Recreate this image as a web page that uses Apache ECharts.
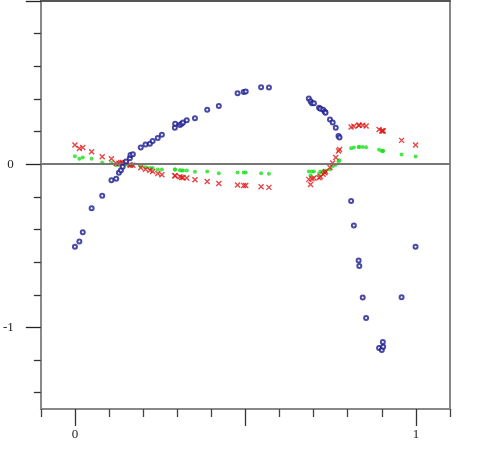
<!DOCTYPE html>
<html>
<head>
<meta charset="utf-8">
<script src="https://cdn.jsdelivr.net/npm/echarts@6/dist/echarts.min.js"></script>
<style>
html,body{margin:0;padding:0;background:#fff;}
#chart{width:491px;height:451px;}
</style>
</head>
<body>
<div id="chart"></div>
<script>
const xValues = [0.000,0.013,0.023,0.049,0.080,0.107,0.121,0.129,0.135,0.140,0.150,0.161,0.163,0.170,0.193,0.207,0.220,0.228,0.243,0.255,0.293,0.294,0.308,0.313,0.317,0.328,0.352,0.388,0.422,0.477,0.495,0.501,0.546,0.569,0.686,0.691,0.695,0.701,0.716,0.720,0.728,0.733,0.735,0.748,0.756,0.765,0.773,0.776,0.810,0.818,0.832,0.834,0.844,0.854,0.892,0.900,0.904,0.903,0.958,0.999];
const circleValues = [-0.506,-0.474,-0.417,-0.270,-0.193,-0.098,-0.089,-0.053,-0.037,-0.016,0.016,0.037,0.057,0.061,0.102,0.120,0.126,0.142,0.160,0.181,0.224,0.248,0.240,0.248,0.256,0.270,0.282,0.333,0.356,0.435,0.443,0.445,0.471,0.470,0.402,0.386,0.374,0.374,0.346,0.340,0.333,0.321,0.315,0.274,0.256,0.224,0.173,0.163,-0.226,-0.376,-0.590,-0.624,-0.817,-0.943,-1.126,-1.138,-1.118,-1.090,-0.815,-0.506];
const crossValues = [0.118,0.096,0.102,0.077,0.045,0.033,0.004,0.006,0.010,0.010,0.008,-0.004,-0.006,-0.006,-0.022,-0.031,-0.037,-0.045,-0.057,-0.065,-0.071,-0.071,-0.077,-0.081,-0.081,-0.085,-0.096,-0.106,-0.118,-0.128,-0.130,-0.130,-0.138,-0.142,-0.093,-0.124,-0.089,-0.085,-0.083,-0.077,-0.061,-0.053,-0.045,-0.020,0.008,0.041,0.081,0.090,0.228,0.232,0.238,0.238,0.238,0.234,0.213,0.203,0.203,0.205,0.146,0.118];
const dotValues = [0.049,0.033,0.041,0.033,0.010,0.008,-0.006,-0.004,-0.002,0.000,-0.002,-0.004,-0.006,-0.006,-0.014,-0.018,-0.024,-0.024,-0.033,-0.033,-0.033,-0.033,-0.037,-0.039,-0.039,-0.039,-0.047,-0.045,-0.055,-0.051,-0.051,-0.051,-0.055,-0.059,-0.045,-0.069,-0.045,-0.045,-0.057,-0.045,-0.045,-0.049,-0.040,-0.033,-0.012,-0.004,0.018,0.024,0.098,0.102,0.106,0.106,0.106,0.104,0.089,0.081,0.081,0.083,0.059,0.047];
const xTickLabels = [0, 1];
const yTickLabels = [-1, 0];
const xMajorTicks = [0, 0.5, 1];
const xMinorTicks = [-0.1, 0.1, 0.2, 0.3, 0.4, 0.6, 0.7, 0.8, 0.9, 1.1];
const yMajorTicks = [-1, 0, 1];
const yMinorTicks = [-1.4, -1.2, -0.8, -0.6, -0.4, -0.2, 0.2, 0.4, 0.6, 0.8];

const pairs = ys => xValues.map((x, i) => [x, ys[i]]);
const chart = echarts.init(document.getElementById('chart'), null, {renderer: 'canvas'});
const font = {fontFamily: 'Liberation Serif', fontSize: 13, color: '#222'};
chart.setOption({
  animation: false,
  backgroundColor: '#fff',
  grid: {left: 40, right: 41, top: 1, bottom: 42, containLabel: false},
  xAxis: [
    {type: 'value', position: 'bottom', min: -0.1, max: 1.1,
     axisLine: {show: true, onZero: false, lineStyle: {color: '#888', width: 2}},
     axisTick: {show: true, customValues: xMinorTicks, length: 8, lineStyle: {color: '#444', width: 1.3}},
     axisLabel: {show: true, customValues: xTickLabels, margin: 19, ...font},
     splitLine: {show: false}},
    {type: 'value', position: 'bottom', min: -0.1, max: 1.1,
     axisLine: {show: false, onZero: false},
     axisTick: {show: true, customValues: xMajorTicks, length: 17, lineStyle: {color: '#333', width: 1.3}},
     axisLabel: {show: false}, splitLine: {show: false}},
    {type: 'value', position: 'top', min: -0.1, max: 1.1,
     axisLine: {show: true, onZero: false, lineStyle: {color: '#555', width: 2}},
     axisTick: {show: false}, axisLabel: {show: false}, splitLine: {show: false}}
  ],
  yAxis: [
    {type: 'value', position: 'left', min: -1.5, max: 1,
     axisLine: {show: true, onZero: false, lineStyle: {color: '#888', width: 2}},
     axisTick: {show: true, customValues: yMajorTicks, length: 15, lineStyle: {color: '#222', width: 1.3}},
     axisLabel: {show: true, customValues: yTickLabels, margin: 27, ...font},
     splitLine: {show: false}},
    {type: 'value', position: 'left', min: -1.5, max: 1,
     axisLine: {show: false, onZero: false},
     axisTick: {show: true, customValues: yMinorTicks, length: 7, lineStyle: {color: '#333', width: 1.3}},
     axisLabel: {show: false}, splitLine: {show: false}},
    {type: 'value', position: 'right', min: -1.5, max: 1,
     axisLine: {show: true, onZero: false, lineStyle: {color: '#888', width: 2}},
     axisTick: {show: false}, axisLabel: {show: false}, splitLine: {show: false}}
  ],
  series: [
    {type: 'scatter', name: 'dots', data: pairs(dotValues), xAxisIndex: 0, yAxisIndex: 0,
     symbol: 'circle', symbolSize: 4, itemStyle: {color: '#1ee01e'}, z: 3,
     markLine: {silent: true, symbol: 'none', label: {show: false},
       lineStyle: {color: '#777', width: 2, type: 'solid'}, data: [{yAxis: 0}]}},
    {type: 'scatter', name: 'crosses', data: pairs(crossValues), xAxisIndex: 0, yAxisIndex: 0,
     symbol: 'path://M0,0L10,10M10,0L0,10', symbolSize: 5,
     itemStyle: {color: '#e01818', borderColor: '#e01818', borderWidth: 1.4}, z: 4},
    {type: 'scatter', name: 'circles', data: pairs(circleValues), xAxisIndex: 0, yAxisIndex: 0,
     symbol: 'emptyCircle', symbolSize: 4,
     itemStyle: {color: '#1c1c90', borderColor: '#1c1c90', borderWidth: 1.2}, z: 5}
  ]
});
</script>
</body>
</html>
